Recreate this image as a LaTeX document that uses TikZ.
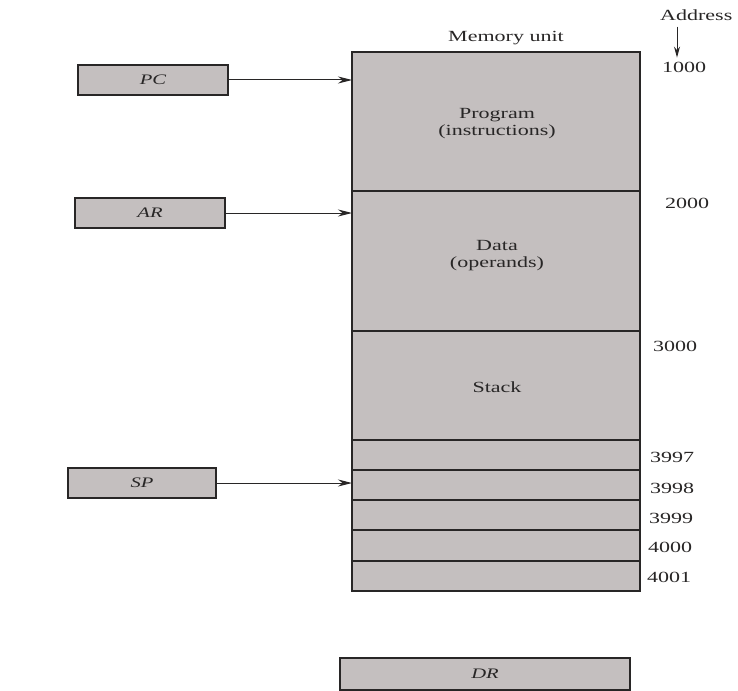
\documentclass[tikz,border=0pt]{standalone}
\usepackage{fontspec}
\setmainfont{Liberation Serif}
\newfontfamily\lblfont[FakeStretch=1.42]{Liberation Serif}
\usetikzlibrary{arrows.meta}
\definecolor{memfill}{RGB}{196,191,191}
\definecolor{inkc}{RGB}{40,38,38}
\definecolor{txtc}{RGB}{40,38,38}
\tikzset{
  cell/.style={draw=inkc, fill=memfill, line width=1.6pt, inner sep=0pt, outer sep=0pt,
    minimum width=288pt},
  celltext/.style={inner sep=0pt, text=txtc, font=\lblfont\fontsize{15.5}{17}\selectfont, align=center},
  regbox/.style={draw=inkc, fill=memfill, line width=1.6pt, inner sep=0pt, outer sep=0pt,
    minimum height=30pt, text=txtc, font=\lblfont\itshape\fontsize{14.5}{16}\selectfont},
  addr/.style={anchor=west, inner sep=0pt, text=txtc, font=\lblfont\fontsize{15.5}{17}\selectfont},
  arr/.style={draw=inkc, line width=1pt, -{Stealth[length=14pt,width=7pt]}}
}
\begin{document}
\begin{tikzpicture}[x=1pt,y=-1pt]
\useasboundingbox (0,0) rectangle (738,690);
% memory cells
\node[cell, minimum height=139pt] (prog) at (496,121.5) {};
\node[cell, minimum height=140pt] (data) at (496,261) {};
\node[cell, minimum height=109pt] (stack) at (496,385.5) {};
\node[cell, minimum height=30pt] (w1) at (496,455) {};
\node[cell, minimum height=30pt] (w2) at (496,485) {};
\node[cell, minimum height=30pt] (w3) at (496,515) {};
\node[cell, minimum height=31pt] (w4) at (496,545.5) {};
\node[cell, minimum height=30pt] (w5) at (496,576) {};
\node[celltext] (ptxt) at (497,124) {Program\\(instructions)};
\node[celltext] (dtxt) at (497,256) {Data\\(operands)};
\node[celltext] (stxt) at (497,387) {Stack};
\node[celltext] (mu) at (506,38) {Memory unit};
% registers
\node[regbox, minimum width=150pt] (pc) at (153,80) {PC};
\node[regbox, minimum width=150pt] (ar) at (150,213) {AR};
\node[regbox, minimum width=148pt] (sp) at (142,483) {SP};
\node[regbox, minimum width=290pt, minimum height=32pt] (dr) at (485,674) {DR};
% arrows
\draw[arr] (pc.east) -- (pc.east -| prog.west);
\draw[arr] (ar.east) -- (ar.east -| data.west);
\draw[arr] (sp.east) -- (sp.east -| w2.west);
% addresses
\node[addr] (ad) at (660,15) {Address};
\node[addr] (a1000) at (662,67) {1000};
\node[addr] (a2000) at (665,203) {2000};
\node[addr] (a3000) at (653,346) {3000};
\node[addr] (a3997) at (650,457) {3997};
\node[addr] (a3998) at (650,488) {3998};
\node[addr] (a3999) at (649,518) {3999};
\node[addr] (a4000) at (648,547) {4000};
\node[addr] (a4001) at (647,577) {4001};
\draw[arr, -{Stealth[length=11pt,width=6pt]}] ([xshift=17pt,yshift=-6pt]ad.south west) -- ([xshift=15pt,yshift=4pt]a1000.north west);
\end{tikzpicture}
\end{document}
